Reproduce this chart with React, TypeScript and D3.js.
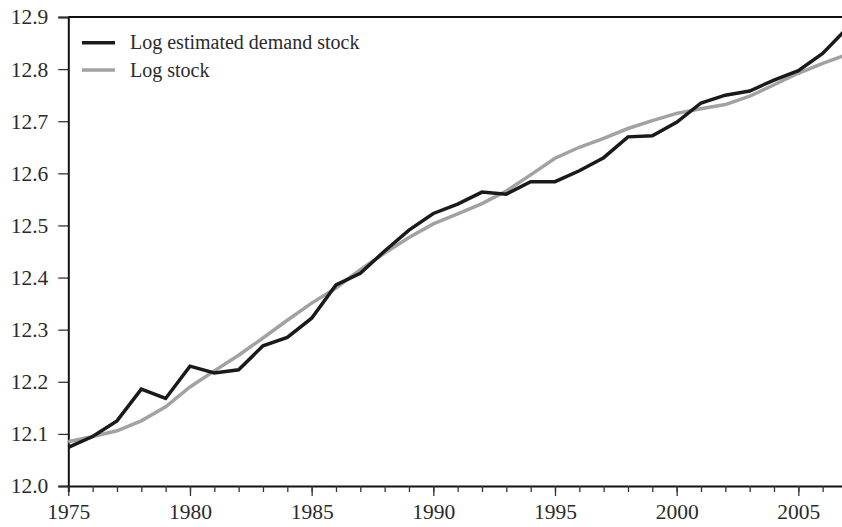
import React, { useEffect, useRef } from "react";
import * as d3 from "d3";

const years: number[] = [
  1975, 1976, 1977, 1978, 1979, 1980, 1981, 1982, 1983, 1984, 1985, 1986, 1987,
  1988, 1989, 1990, 1991, 1992, 1993, 1994, 1995, 1996, 1997, 1998, 1999, 2000,
  2001, 2002, 2003, 2004, 2005, 2006, 2007,
];
const demandStock: number[] = [
  12.074, 12.095, 12.125, 12.186, 12.168, 12.23, 12.217, 12.223, 12.269, 12.285,
  12.322, 12.386, 12.408, 12.451, 12.491, 12.523, 12.541, 12.564, 12.56, 12.584,
  12.584, 12.605, 12.63, 12.67, 12.672, 12.698, 12.735, 12.75, 12.758, 12.779,
  12.797, 12.83, 12.878,
];
const logStock: number[] = [
  12.085, 12.095, 12.106, 12.125, 12.152, 12.19, 12.221, 12.251, 12.284, 12.318,
  12.351, 12.38, 12.415, 12.447, 12.477, 12.503, 12.522, 12.542, 12.566, 12.597,
  12.629, 12.65, 12.667, 12.686, 12.701, 12.715, 12.724, 12.732, 12.748, 12.77,
  12.792, 12.811, 12.828,
];
const yTicks: number[] = [12.0, 12.1, 12.2, 12.3, 12.4, 12.5, 12.6, 12.7, 12.8, 12.9];
const xLabelYears: number[] = [1975, 1980, 1985, 1990, 1995, 2000, 2005];
const seriesNames: string[] = ["Log estimated demand stock", "Log stock"];

const W = 842;
const H = 527;
const FONT = "'Liberation Serif', 'Times New Roman', serif";

export default function App() {
  const ref = useRef<SVGSVGElement>(null);

  useEffect(() => {
    const svg = d3.select(ref.current);
    svg.selectAll("*").remove();

    const x = d3.scaleLinear().domain([1975, 2007]).range([68.3, 847]);
    const y = d3.scaleLinear().domain([12.0, 12.9]).range([486, 17]);

    const textColor = "#2b2b2b";

    // top frame line
    svg
      .append("line")
      .attr("x1", x(1975))
      .attr("x2", x(2007))
      .attr("y1", y(12.9))
      .attr("y2", y(12.9))
      .attr("stroke", "#111")
      .attr("stroke-width", 2);

    // Y axis
    const yAxis = d3
      .axisLeft(y)
      .tickValues(yTicks)
      .tickSize(10)
      .tickPadding(10)
      .tickFormat((d) => d3.format(".1f")(d as number));
    const gy = svg
      .append("g")
      .attr("font-family", FONT)
      .attr("transform", `translate(${x(1975)},0)`)
      .call(yAxis);
    gy.attr("font-family", FONT);
    gy.select(".domain").attr("stroke", "#111").attr("stroke-width", 2);
    gy.selectAll(".tick line").attr("stroke", "#333").attr("stroke-width", 1.3);
    gy.selectAll(".tick text")
      .attr("font-family", FONT)
      .attr("font-size", 21.5)
      .attr("fill", textColor);

    // X axis minor ticks
    const xAxisMinor = d3
      .axisBottom(x)
      .tickValues(years)
      .tickSize(6)
      .tickFormat(() => "");
    const gxm = svg.append("g").attr("transform", `translate(0,${y(12.0)})`).call(xAxisMinor);
    gxm.select(".domain").attr("stroke", "#111").attr("stroke-width", 2);
    gxm.selectAll(".tick line").attr("stroke", "#333").attr("stroke-width", 1.3);

    // X axis major ticks + labels
    const xAxisMajor = d3
      .axisBottom(x)
      .tickValues(xLabelYears)
      .tickSize(10)
      .tickPadding(8)
      .tickFormat((d) => String(d));
    const gx = svg.append("g").attr("transform", `translate(0,${y(12.0)})`).call(xAxisMajor);
    gx.attr("font-family", FONT);
    gx.select(".domain").remove();
    gx.selectAll(".tick line").attr("stroke", "#333").attr("stroke-width", 1.3);
    gx.selectAll(".tick text")
      .attr("font-family", FONT)
      .attr("font-size", 21.5)
      .attr("fill", textColor);

    const line = (vals: number[]) =>
      d3
        .line<number>()
        .x((_, i) => x(years[i]))
        .y((d) => y(d))(vals);

    svg
      .append("path")
      .attr("d", line(logStock))
      .attr("fill", "none")
      .attr("stroke", "#a2a2a2")
      .attr("stroke-width", 3.5)
      .attr("stroke-linejoin", "miter");

    svg
      .append("path")
      .attr("d", line(demandStock))
      .attr("fill", "none")
      .attr("stroke", "#1a1a1a")
      .attr("stroke-width", 3.5)
      .attr("stroke-linejoin", "miter");

    // Legend
    const legendColors = ["#1a1a1a", "#a2a2a2"];
    const lg = svg.append("g");
    seriesNames.forEach((name, i) => {
      const ly = 42.7 + i * 27.3;
      lg.append("line")
        .attr("x1", 82)
        .attr("x2", 115)
        .attr("y1", ly)
        .attr("y2", ly)
        .attr("stroke", legendColors[i])
        .attr("stroke-width", 3.5);
      lg.append("text")
        .attr("x", 130)
        .attr("y", ly + 6.5)
        .attr("font-family", FONT)
        .attr("font-size", 20)
        .attr("fill", textColor)
        .text(name);
    });
  }, []);

  return (
    <svg
      ref={ref}
      width={W}
      height={H}
      style={{ position: "absolute", left: 0, top: 0, background: "#fff" }}
    />
  );
}
